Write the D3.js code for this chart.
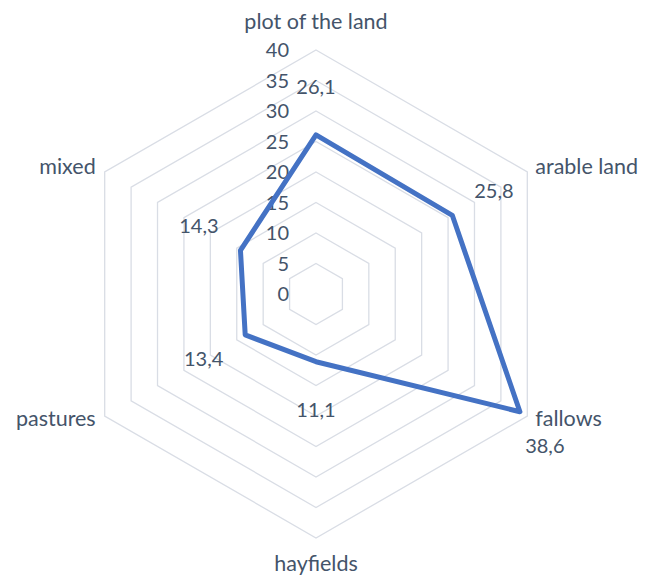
<!DOCTYPE html>
<meta charset="utf-8">
<style>
    body {
        margin: 0;
        background: #fff;
        font-family: "Lato", "Open Sans", sans-serif;
    }

    text {
        fill: #44546a;
        font-size: 20px;
    }

    .cat {
        font-size: 21.5px;
    }
</style>
<svg width="645" height="576"></svg>
<script src="https://d3js.org/d3.v7.min.js"></script>
<script>
    const categories = ["plot of the land", "arable land", "fallows", "hayfields", "pastures", "mixed"];
    const values = [26.1, 25.8, 38.6, 11.1, 13.4, 14.3];
    const ticks = [0, 5, 10, 15, 20, 25, 30, 35, 40];

    var svg = d3.select("svg"),
        cx = 316,
        cy = 294,
        rMax = 244;

    var r = d3.scaleLinear().domain([0, 40]).range([0, rMax]);

    var angle = function (i) {
        return i * 2 * Math.PI / categories.length;
    };
    var px = function (i, rad) { return cx + rad * Math.sin(angle(i)); };
    var py = function (i, rad) { return cy - rad * Math.cos(angle(i)); };

    // hexagon rings
    var ring = d3.line()
        .x(function (d) { return px(d.i, d.r); })
        .y(function (d) { return py(d.i, d.r); })
        .curve(d3.curveLinearClosed);

    svg.append("g")
        .selectAll("path")
        .data(ticks.slice(1))
        .enter().append("path")
        .attr("d", function (t) {
            return ring(categories.map(function (c, i) { return { i: i, r: r(t) }; }));
        })
        .style("fill", "none")
        .style("stroke", "#d9dde5")
        .style("stroke-width", 1.3);

    // tick labels
    svg.append("g")
        .selectAll("text")
        .data(ticks)
        .enter().append("text")
        .attr("x", cx - 27)
        .attr("y", function (t) { return cy - r(t); })
        .attr("dy", "0.35em")
        .attr("text-anchor", "end")
        .text(function (t) { return t; });

    // category labels
    svg.append("g")
        .selectAll("text")
        .data(categories)
        .enter().append("text")
        .attr("class", "cat")
        .attr("x", function (d, i) {
            var s = Math.sin(angle(i));
            return px(i, rMax) + (Math.abs(s) < 0.01 ? 0 : (s > 0 ? 8 : -9));
        })
        .attr("y", function (d, i) {
            var c = Math.cos(angle(i));
            if (Math.abs(c) > 0.99) return c > 0 ? py(i, rMax) - 21 : py(i, rMax) + 33;
            return py(i, rMax) + (c > 0 ? 2 : 10);
        })
        .attr("text-anchor", function (d, i) {
            var s = Math.sin(angle(i));
            return Math.abs(s) < 0.01 ? "middle" : (s > 0 ? "start" : "end");
        })
        .text(function (d) { return d; });

    // series
    svg.append("path")
        .datum(values)
        .attr("d", ring.x(function (d, i) { return px(i, r(d)); })
            .y(function (d, i) { return py(i, r(d)); }))
        .style("fill", "none")
        .style("stroke", "#4472c4")
        .style("stroke-width", 5)
        .style("stroke-linejoin", "round");

    // data labels
    svg.append("g")
        .selectAll("text")
        .data(values)
        .enter().append("text")
        .attr("x", function (d, i) {
            var rad = Math.min(r(d) + 48, rMax + 26);
            return px(i, rad) - (i == 2 ? 5 : 0);
        })
        .attr("y", function (d, i) {
            var rad = Math.min(r(d) + 48, rMax + 26);
            return py(i, rad) + (i == 2 ? 17 : 0);
        })
        .attr("dy", "0.35em")
        .attr("text-anchor", "middle")
        .text(function (d) { return String(d).replace(".", ","); });
</script>
